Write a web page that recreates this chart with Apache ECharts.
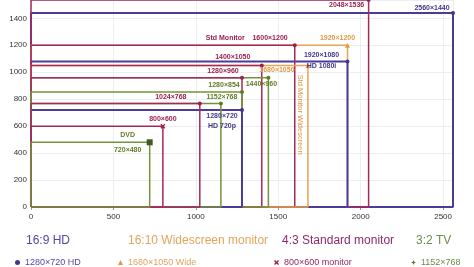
<!DOCTYPE html>
<html>
<head>
<meta charset="utf-8">
<script src="https://cdn.jsdelivr.net/npm/echarts@6/dist/echarts.min.js"></script>
<style>html,body{margin:0;padding:0;background:#fff}#chart{width:474px;height:267px}</style>
</head>
<body>
<div id="chart"></div>
<script>
// headings and legend names
var headings = ['16:9 HD', '16:10 Widescreen monitor', '4:3 Standard monitor', '3:2 TV'];
var legend_names = ['1280×720 HD', '1680×1050 Wide', '800×600 monitor', '1152×768'];

// 16:9
var hd_w = [1280, 1920, 2560];
var hd_h = [720, 1080, 1440];
var hd_text = ['1280×720\nHD 720p', '1920×1080\nHD 1080i', '2560×1440'];
// 16:10
var wide_w = [1680, 1920];
var wide_h = [1050, 1200];
var wide_text = ['1680×1050', '1920×1200'];
// 4:3
var std_w = [800, 1024, 1280, 1400, 1600, 2048];
var std_h = [600, 768, 960, 1050, 1200, 1536];
var std_text = ['800×600', '1024×768', '1280×960', '1400×1050', 'Std Monitor    1600×1200', '2048×1536'];
// 3:2
var tv_w = [720, 1152, 1280, 1440];
var tv_h = [480, 768, 854, 960];
var tv_text = ['DVD\n720×480', '1152×768', '1280×854', '1440×960'];

var x_ticks = [0, 500, 1000, 1500, 2000, 2500];
var y_ticks = [0, 200, 400, 600, 800, 1000, 1200, 1400];

var note_text = 'Std Monitor Widescreen';

var FONT = 'Liberation Sans, Arial, sans-serif';
var CROSS = 'path://M2,0L5,3L8,0L10,2L7,5L10,8L8,10L5,7L2,10L0,8L3,5L0,2Z';
var STAR = 'path://M5,0L6.5,3.5L10,5L6.5,6.5L5,10L3.5,6.5L0,5L3.5,3.5Z';

// label offsets from the corner point (label centre, px)
var groups = [
	{w: hd_w, h: hd_h, text: hd_text, off: [[-20, 11], [-26, -1], [-21, -5]], lh: [10, 11, 10],
		color: '#4b3c9c', label: '#443788', symbol: 'circle', size: 4, lw: 2},
	{w: wide_w, h: wide_h, text: wide_text, off: [[-31, 5], [-10, -7]], lh: [10, 10],
		color: '#e8a452', label: '#e09a45', symbol: 'triangle', size: 5, lw: 1.5},
	{w: std_w, h: std_h, text: std_text, off: [[0, -7], [-29, -6], [-19, -7], [-29, -8], [-48, -7], [-22, 5]], lh: [10, 10, 10, 10, 10, 10],
		color: '#a52a5c', label: '#9a2050', symbol: 'circle', size: 4, lw: 1.5, special: {0: [CROSS, 5]}},
	{w: tv_w, h: tv_h, text: tv_text, off: [[-22, 0], [1, -6], [-18, -7], [-7, 6]], lh: [15, 10, 10, 10],
		color: '#76923a', label: '#5f7d25', symbol: 'circle', size: 4, lw: 1.5, special: {0: ['rect', 6]}}
];
var heading_colors = ['#5646a6', '#e2a45e', '#8e2a68', '#6e8c48'];
var heading_left = [26, 128, 282, 416];
var legend_left = [15, 118, 274, 411];
var legend_icons = ['circle', 'triangle', CROSS, STAR];

var rects = [];
groups.forEach(function(g, gi){
	g.w.forEach(function(w, i){
		rects.push({g: gi, i: i, w: w, h: g.h[i]});
	});
});
// biggest first so the small ones end up on top
rects.sort(function(a, b){ return b.w * b.h - a.w * a.h; });

var series = rects.map(function(r){
	var g = groups[r.g];
	var sym = g.symbol, size = g.size;
	if (g.special && g.special[r.i]) { sym = g.special[r.i][0]; size = g.special[r.i][1]; }
	var off = g.off[r.i];
	return {
		name: legend_names[r.g],
		type: 'line',
		animation: false,
		silent: true,
		clip: false,
		symbol: 'circle',
		symbolSize: 0,
		color: g.color,
		lineStyle: {color: g.color, width: g.lw},
		itemStyle: {color: r.g == 3 && r.i == 0 ? '#3d5c1e' : g.label},
		data: [
			[0, 0], [r.w, 0],
			{
				value: [r.w, r.h], symbol: sym, symbolSize: size,
				label: {
					show: true, formatter: g.text[r.i],
					position: [off[0] + size / 2, off[1] + size / 2],
					align: 'center', verticalAlign: 'middle',
					color: g.label, fontSize: 7, fontWeight: 'bold', fontFamily: FONT,
					lineHeight: g.lh[r.i]
				}
			},
			[0, r.h], [0, 0]
		]
	};
});

var legends = legend_names.map(function(n, i){
	return {
		data: [{name: n, icon: legend_icons[i]}],
		left: legend_left[i], top: 258,
		itemWidth: 5, itemHeight: 5, padding: 0,
		selectedMode: false,
		textStyle: {color: heading_colors[i], fontSize: 9, fontFamily: FONT}
	};
});

var my_chart = echarts.init(document.getElementById('chart'));
my_chart.setOption({
	backgroundColor: '#fff',
	animation: false,
	grid: {left: 31, right: 21, top: -4, bottom: 60},
	xAxis: {
		type: 'value', min: 0, max: 2560, interval: 500,
		axisLine: {show: false},
		axisTick: {show: true, length: 3, lineStyle: {color: '#999'}},
		splitLine: {lineStyle: {color: '#eeeeee'}},
		axisLabel: {
			fontSize: 8, color: '#333', fontFamily: FONT, margin: 6, showMaxLabel: false,
			formatter: function(v){ return x_ticks.indexOf(v) >= 0 ? String(v) : ''; }
		}
	},
	yAxis: {
		type: 'value', min: 0, max: 1536, interval: 200,
		axisLine: {show: false},
		axisTick: {show: false},
		splitLine: {lineStyle: {color: '#eeeeee'}},
		axisLabel: {
			fontSize: 8, color: '#333', fontFamily: FONT, margin: 4, showMaxLabel: false,
			formatter: function(v){ return y_ticks.indexOf(v) >= 0 ? String(v) : ''; }
		}
	},
	legend: legends,
	series: series
});

var graphics = headings.map(function(t, i){
	return {
		type: 'text', id: 'h' + i, left: heading_left[i], top: 235, silent: true,
		style: {text: t, fill: heading_colors[i], font: '12px ' + FONT}
	};
});
var p = my_chart.convertToPixel({gridIndex: 0}, [1635, 685]);
graphics.push({
	type: 'text', id: 'note', x: p[0], y: p[1], rotation: -Math.PI / 2, silent: true,
	style: {text: note_text, fill: '#e09a45', font: '7.5px ' + FONT, align: 'center', verticalAlign: 'middle'}
});
my_chart.setOption({graphic: graphics});
</script>
</body>
</html>
